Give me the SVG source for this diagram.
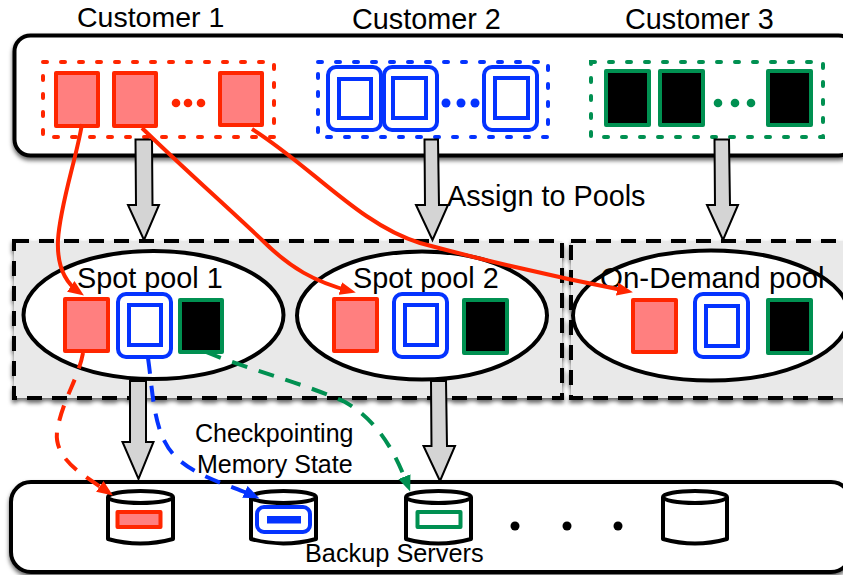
<svg xmlns="http://www.w3.org/2000/svg" width="843" height="575" viewBox="0 0 843 575">
<style>
text{font-family:"Liberation Sans",Arial,Helvetica,sans-serif;fill:#000}
.t28{font-size:28.800px}.t24{font-size:25px}
.red{fill:#ff7f7f;stroke:#ff2600;stroke-width:4;stroke-linejoin:round}
.blo{fill:#fff;stroke:#0433ff;stroke-width:4}
.bli{fill:#fff;stroke:#0433ff;stroke-width:4}
.blk{fill:#000;stroke:#009051;stroke-width:4;stroke-linejoin:round}
.grp{fill:none;stroke-width:4;stroke-dasharray:4 14;stroke-linecap:round}
.pool{fill:#e9e9e9;stroke:#000;stroke-width:4;stroke-dasharray:15 10}
.ell{fill:#fff;stroke:#000;stroke-width:4}
.box{fill:#fff;stroke:#000;stroke-width:4}
.ga{fill:#d4d4d4;stroke:#000;stroke-width:2;stroke-linejoin:miter}
.cyl{fill:#fff;stroke:#000;stroke-width:4;stroke-linejoin:round}
.cn{fill:none;stroke-width:4}
.d{stroke-dasharray:16 12}
</style>
<defs>
<filter id="sh" x="-5%" y="-10%" width="110%" height="125%"><feDropShadow dx="0" dy="3" stdDeviation="2" flood-color="#000" flood-opacity="0.6"/></filter>
<marker id="ar" markerUnits="userSpaceOnUse" markerWidth="18" markerHeight="14" refX="10" refY="6.500" orient="auto"><path d="M0 0L16 6.500L0 13z" fill="#ff2600"/></marker>
<marker id="ab" markerUnits="userSpaceOnUse" markerWidth="18" markerHeight="14" refX="10" refY="6.500" orient="auto"><path d="M0 0L16 6.500L0 13z" fill="#0433ff"/></marker>
<marker id="ag" markerUnits="userSpaceOnUse" markerWidth="18" markerHeight="14" refX="10" refY="6.500" orient="auto"><path d="M0 0L16 6.500L0 13z" fill="#009051"/></marker>
</defs>

<g id="customers-box">
<rect class="box" x="14.500" y="35.500" width="840" height="120" rx="16" filter="url(#sh)"/>
</g>
<g id="customer-1">
<text class="t28" x="77" y="27" style="font-size:28.500px">Customer 1</text>
<rect class="grp" x="43" y="62" width="231" height="75" stroke="#ff2600"/>
<rect class="red" x="56" y="73" width="42" height="53"/>
<rect class="red" x="114" y="73" width="42" height="53"/>
<rect class="red" x="220" y="73" width="42" height="52"/>
<g fill="#ff2600"><circle cx="176" cy="103" r="4.300"/><circle cx="188" cy="103" r="4.300"/><circle cx="201" cy="103" r="4.300"/></g>
</g>
<g id="customer-2">
<text class="t28" x="352" y="29">Customer 2</text>
<rect class="grp" x="318" y="62" width="230" height="75" stroke="#0433ff"/>
<rect class="blo" x="328" y="67" width="53" height="63" rx="8"/><rect class="bli" x="339" y="79" width="32" height="39"/>
<rect class="blo" x="384" y="67" width="53" height="63" rx="8"/><rect class="bli" x="393" y="78" width="33" height="40"/>
<rect class="blo" x="484" y="67" width="53" height="63" rx="8"/><rect class="bli" x="495" y="78" width="33" height="40"/>
<g fill="#0433ff"><circle cx="446" cy="103" r="4.500"/><circle cx="461" cy="103" r="4.500"/><circle cx="475" cy="103" r="4.500"/></g>
</g>
<g id="customer-3">
<text class="t28" x="625" y="29">Customer 3</text>
<rect class="grp" x="591" y="62" width="232" height="75" stroke="#009051"/>
<rect class="blk" x="606" y="71" width="43" height="54"/>
<rect class="blk" x="660" y="71" width="43" height="54"/>
<rect class="blk" x="768" y="71" width="43" height="54"/>
<g fill="#009051"><circle cx="718" cy="103" r="4.300"/><circle cx="735" cy="103" r="4.300"/><circle cx="751" cy="103" r="4.300"/></g>
</g>

<g id="pool-backgrounds">
<rect class="pool" x="14" y="241" width="548" height="157" filter="url(#sh)"/>
<rect class="pool" x="571" y="241" width="290" height="157" filter="url(#sh)"/>
</g>
<g id="spot-pool-1">
<ellipse class="ell" cx="153.500" cy="315" rx="130" ry="64"/>
<text class="t28" x="77" y="287.500">Spot pool 1</text>
<rect class="red" x="65" y="299" width="43" height="52"/>
<rect class="blo" x="118" y="294" width="53" height="63" rx="8"/><rect class="bli" x="129" y="305" width="32" height="40"/>
<rect class="blk" x="180" y="300" width="42" height="52"/>
</g>
<g id="spot-pool-2">
<ellipse class="ell" cx="422" cy="315.500" rx="125" ry="64"/>
<text class="t28" x="353" y="287.500">Spot pool 2</text>
<rect class="red" x="334" y="299" width="43" height="52"/>
<rect class="blo" x="394" y="294" width="53" height="63" rx="8"/><rect class="bli" x="405" y="305" width="32" height="40"/>
<rect class="blk" x="464" y="300" width="43" height="53"/>
</g>
<g id="on-demand-pool">
<ellipse class="ell" cx="711" cy="315.500" rx="138" ry="65"/>
<text class="t28" x="600" y="288" style="font-size:29.500px">On-Demand pool</text>
<rect class="red" x="633" y="300" width="43" height="52"/>
<rect class="blo" x="695" y="294" width="53" height="63" rx="8"/><rect class="bli" x="706" y="306" width="32" height="40"/>
<rect class="blk" x="768" y="300" width="43" height="53"/>
</g>

<g id="backup-servers">
<rect class="box" x="11" y="482" width="840" height="90" rx="20" filter="url(#sh)"/>
<text class="t24" x="305" y="562" style="font-size:25.300px">Backup Servers</text>
</g>
<g id="server-1">
<path class="cyl" d="M108 497V539Q140 548 173 539V497"/><ellipse class="cyl" cx="140.500" cy="497" rx="32.500" ry="6"/>
<rect class="red" x="117.500" y="512" width="43" height="15"/>
</g>
<g id="server-2">
<path class="cyl" d="M251 497V539Q283 548 316 539V497"/><ellipse class="cyl" cx="283.500" cy="497" rx="32.500" ry="6"/>
<rect class="blo" x="257" y="507" width="53" height="25" rx="7"/><rect x="267" y="516" width="34" height="7.500" fill="#0433ff"/>
</g>
<g id="server-3">
<path class="cyl" d="M406 497V539Q438 548 471 539V497"/><ellipse class="cyl" cx="438.500" cy="497" rx="32.500" ry="6"/>
<rect x="417.500" y="512" width="43" height="15" fill="#fff" stroke="#009051" stroke-width="4" stroke-linejoin="round"/>
</g>
<g id="server-4">
<path class="cyl" d="M663 497V539Q695 548 727 539V497"/><ellipse class="cyl" cx="695" cy="497" rx="32" ry="6"/>
</g>
<g id="server-dots"><circle cx="515" cy="526" r="4.500"/><circle cx="567" cy="526" r="4.500"/><circle cx="618" cy="526" r="4.500"/></g>

<g id="labels">
<text class="t28" x="447" y="206">Assign to Pools</text>
<text class="t24" x="195" y="442">Checkpointing</text>
<text class="t24" x="197" y="473">Memory State</text>
</g>

<g id="connectors">
<g id="assign-arrows">
<path class="ga" d="M135.500 139.500H152L152.500 205H159L144 240L128 205H136z"/>
<path class="ga" d="M424.500 139.500H438L439 205H448L432.500 240L416 205H425z"/>
<path class="ga" d="M714.500 139.500H729L730 205H738L723 240L707 205H715z"/>
<path class="ga" d="M130 381H146V442H153.500L138.500 479L122.500 442H130z"/>
<path class="ga" d="M431 381H446L447 446H455L440 481L423.500 446H431.500z"/>
</g>
<path class="cn" stroke="#ff2600" marker-end="url(#ar)" d="M82 124C76 160 60 205 58 240C57 263 63 281 79 292"/>
<path class="cn" stroke="#ff2600" marker-end="url(#ar)" d="M142 128C180 165 225 205 262 240C290 268 315 282 350 291"/>
<path class="cn" stroke="#ff2600" marker-end="url(#ar)" d="M252 129C310 165 360 225 420 243C490 262 570 280 627 291"/>
<path class="cn d" stroke="#ff2600" marker-end="url(#ar)" d="M83 353C78 380 62 400 57 432C54 460 85 476 108 492"/>
<path class="cn d" stroke="#0433ff" marker-end="url(#ab)" d="M148 358C152 385 153 420 165 442C180 473 225 483 254 496"/>
<path class="cn d" stroke="#009051" marker-end="url(#ag)" d="M206 352C250 370 300 382 345 402C380 422 396 455 408 486"/>
</g>
</svg>
